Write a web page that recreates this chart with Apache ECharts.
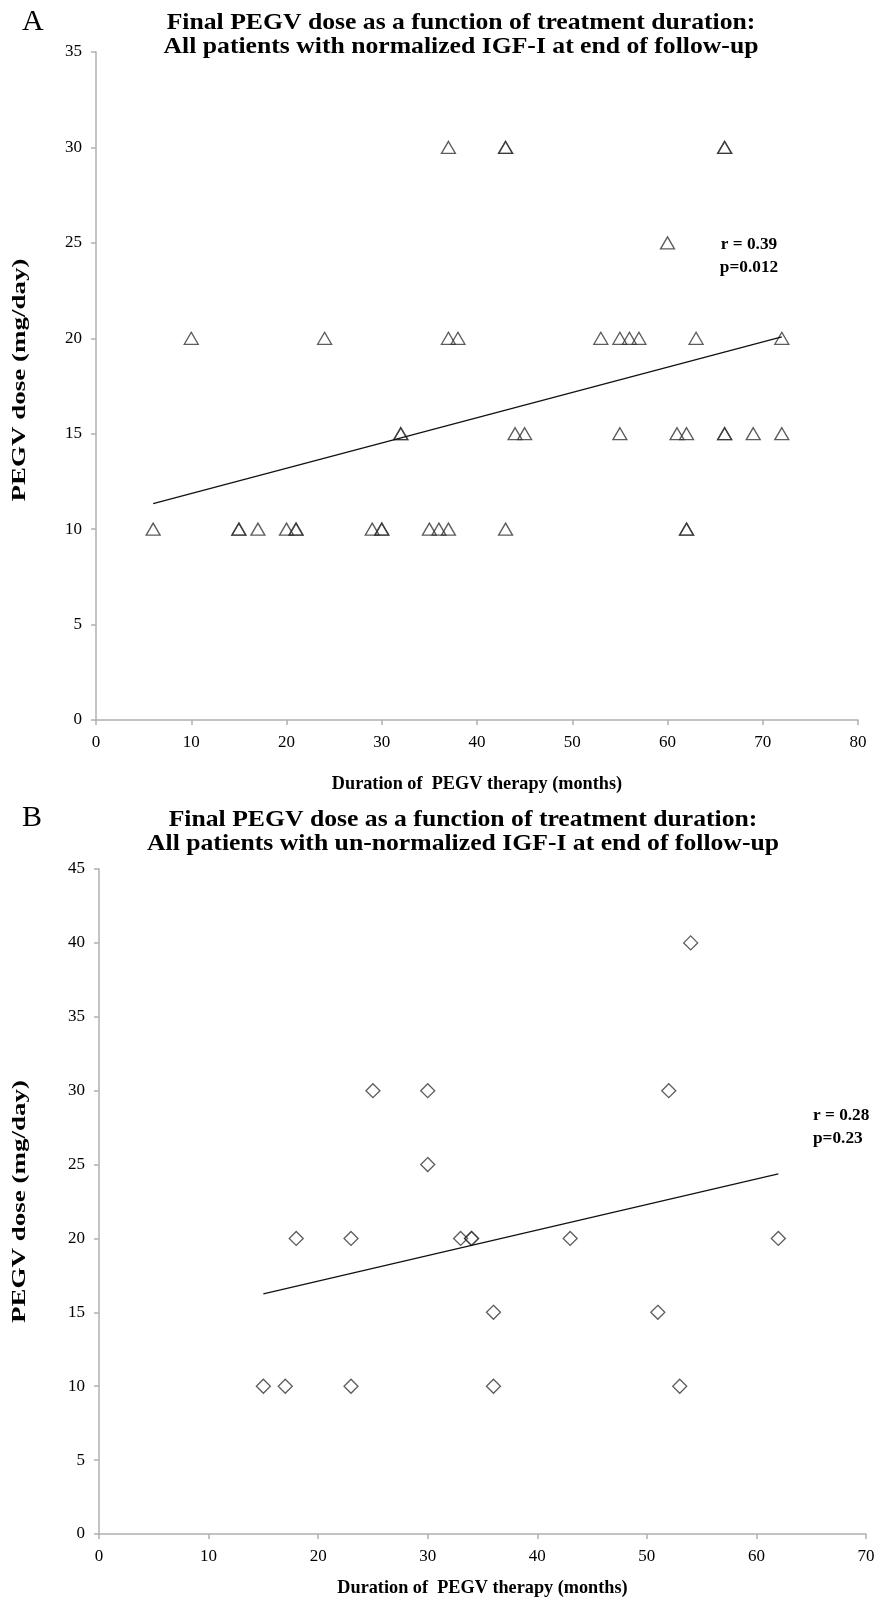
<!DOCTYPE html>
<html>
<head>
<meta charset="utf-8">
<script src="https://cdn.jsdelivr.net/npm/echarts@6/dist/echarts.min.js"></script>
<style>
html,body{margin:0;padding:0;background:#fff;}
#c{width:879px;height:1607px;}
</style>
</head>
<body>
<div id="c"></div>
<script>
// Panel A: normalized IGF-I (duration in months, final dose mg/day)
const durationA = [37,43,43,66,66, 60, 10,24,37,38,53,55,56,57,63,72, 32,32,44,45,55,61,62,66,66,69,72, 6,15,15,17,20,21,21,29,30,30,35,36,37,43,62,62];
const doseA     = [30,30,30,30,30, 25, 20,20,20,20,20,20,20,20,20,20, 15,15,15,15,15,15,15,15,15,15,15, 10,10,10,10,10,10,10,10,10,10,10,10,10,10,10,10];
// Panel B: un-normalized IGF-I
const durationB = [15,17,18,23,23,25,30,30,33,34,34,36,36,43,51,52,53,54,62];
const doseB     = [10,10,20,20,10,30,30,25,20,20,20,15,10,20,15,30,10,40,20];

const xTicksA = [0,10,20,30,40,50,60,70,80];
const yTicksA = [0,5,10,15,20,25,30,35];
const xTicksB = [0,10,20,30,40,50,60,70];
const yTicksB = [0,5,10,15,20,25,30,35,40,45];

const titleA = 'Final PEGV dose as a function of treatment duration:\nAll patients with normalized IGF-I at end of follow-up';
const titleB = 'Final PEGV dose as a function of treatment duration:\nAll patients with un-normalized IGF-I at end of follow-up';
const statsA = 'r = 0.39\np=0.012';
const statsB = 'r = 0.28\np=0.23';
const xName = 'Duration of  PEGV therapy (months)';
const yName = 'PEGV dose (mg/day)';

function pairs(xs, ys){ return xs.map((x,i)=>[x, ys[i]]); }
function fit(xs, ys){
  const n = xs.length;
  const mx = xs.reduce((a,b)=>a+b,0)/n, my = ys.reduce((a,b)=>a+b,0)/n;
  let sxy=0,sxx=0;
  for(let i=0;i<n;i++){ sxy+=(xs[i]-mx)*(ys[i]-my); sxx+=(xs[i]-mx)*(xs[i]-mx); }
  const b = sxy/sxx, a = my-b*mx;
  const x0 = Math.min(...xs), x1 = Math.max(...xs);
  return [[x0, a+b*x0],[x1, a+b*x1]];
}

const FONT = '"Liberation Serif", "Times New Roman", serif';
const axisLineStyle = {color:'#b0b0b0', width:1.5};
const G = [
  {left:96, top:52, width:762, height:668},
  {left:99, top:869, width:767, height:665}
];

function xAxis(idx, ticks){
  return {
    type:'value', gridIndex:idx, min:ticks[0], max:ticks[ticks.length-1], interval:10,
    axisLine:{show:true, lineStyle:axisLineStyle},
    axisTick:{show:true, length:5, lineStyle:axisLineStyle},
    axisLabel:{fontFamily:FONT, fontSize:17, color:'#000', margin:14},
    splitLine:{show:false}
  };
}
function yAxis(idx, ticks){
  return {
    type:'value', gridIndex:idx, min:ticks[0], max:ticks[ticks.length-1], interval:5,
    axisLine:{show:true, lineStyle:axisLineStyle},
    axisTick:{show:true, length:5, lineStyle:axisLineStyle},
    axisLabel:{fontFamily:FONT, fontSize:17, color:'#000', margin:14},
    splitLine:{show:false}
  };
}
function titleText(txt, cx, y){
  return {type:'text', x:cx, y:y, scaleX:1.07, silent:true,
    style:{text:txt, font:'bold 24px ' + FONT, fill:'#000', textAlign:'center', textVerticalAlign:'top', lineHeight:24}};
}
function xNameText(g, gap){
  return {type:'text', x:g.left + g.width/2, y:g.top + g.height + gap, scaleX:0.96, silent:true,
    style:{text:xName, font:'bold 19px ' + FONT, fill:'#000', textAlign:'center', textVerticalAlign:'middle'}};
}
function yNameText(g, cx, dy){
  return {type:'text', x:cx, y:g.top + g.height/2 + dy, rotation:Math.PI/2, scaleX:1.42, silent:true,
    style:{text:yName, font:'bold 19px ' + FONT, fill:'#000', textAlign:'center', textVerticalAlign:'middle'}};
}

const chart = echarts.init(document.getElementById('c'), null, {renderer:'canvas'});
chart.setOption({
  backgroundColor:'#fff',
  animation:false,
  textStyle:{fontFamily:FONT},
  grid:G,
  xAxis:[xAxis(0, xTicksA), xAxis(1, xTicksB)],
  yAxis:[yAxis(0, yTicksA), yAxis(1, yTicksB)],
  graphic:[
    titleText(titleA, 461, 11),
    titleText(titleB, 463, 808),
    xNameText(G[0], 64),
    xNameText(G[1], 54),
    yNameText(G[0], 20, -6),
    yNameText(G[1], 20, 0),
    {type:'text', x:22, y:7, silent:true, style:{text:'A', font:'30px ' + FONT, fill:'#000'}},
    {type:'text', x:22, y:803, silent:true, style:{text:'B', font:'30px ' + FONT, fill:'#000'}},
    {type:'text', x:749, y:233, scaleX:1.08, silent:true, style:{text:statsA, font:'bold 16px ' + FONT, fill:'#000', textAlign:'center', lineHeight:23}},
    {type:'text', x:813, y:1104, scaleX:1.08, silent:true, style:{text:statsB, font:'bold 16px ' + FONT, fill:'#000', lineHeight:23}}
  ],
  series:[
    {type:'scatter', xAxisIndex:0, yAxisIndex:0, data:pairs(durationA, doseA),
     symbol:'triangle', symbolSize:[14,12],
     itemStyle:{color:'rgba(255,255,255,0)', borderColor:'#333', borderWidth:1.3}},
    {type:'line', xAxisIndex:0, yAxisIndex:0, data:fit(durationA, doseA),
     symbol:'none', lineStyle:{color:'#111', width:1.3}},
    {type:'scatter', xAxisIndex:1, yAxisIndex:1, data:pairs(durationB, doseB),
     symbol:'diamond', symbolSize:[14,14],
     itemStyle:{color:'rgba(255,255,255,0)', borderColor:'#333', borderWidth:1.3}},
    {type:'line', xAxisIndex:1, yAxisIndex:1, data:fit(durationB, doseB),
     symbol:'none', lineStyle:{color:'#111', width:1.3}}
  ]
});
</script>
</body>
</html>
